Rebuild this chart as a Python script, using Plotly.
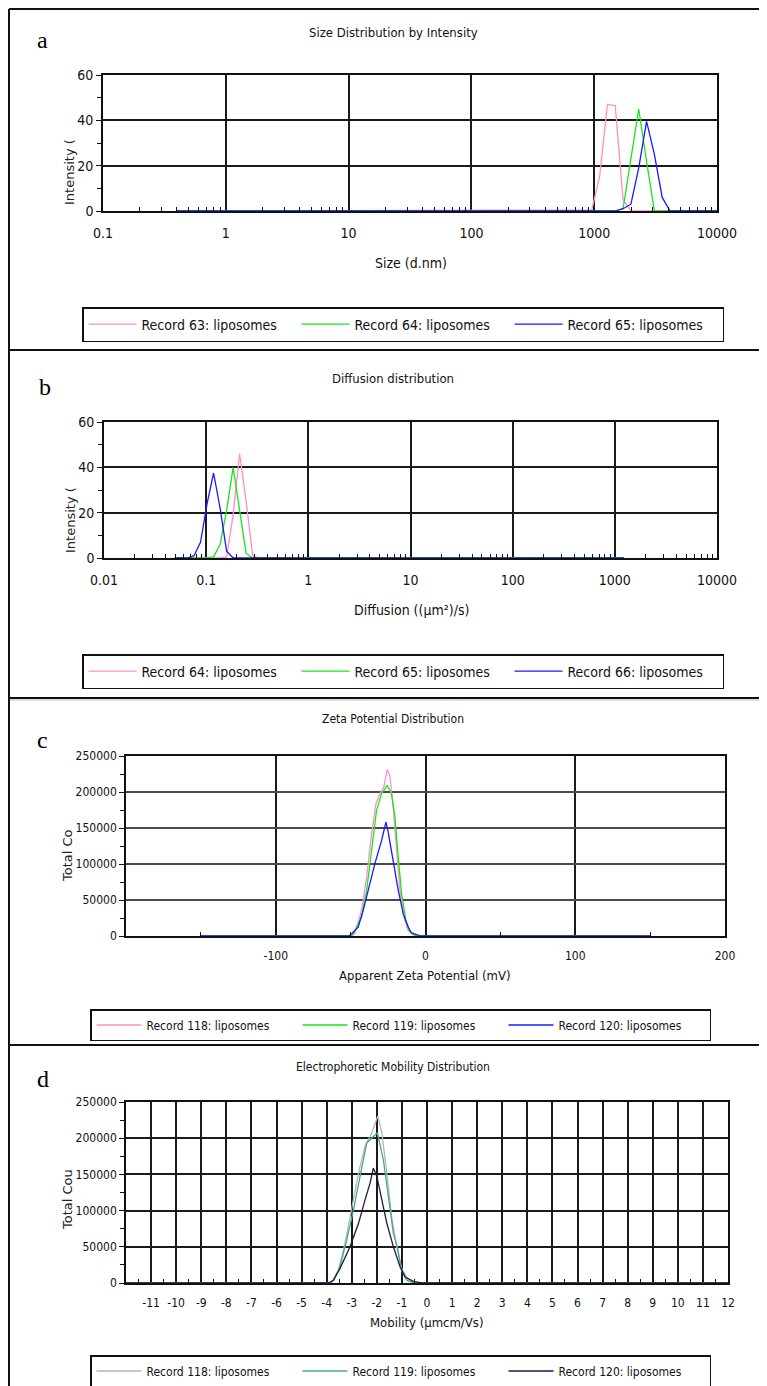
import plotly.graph_objects as go

# The page adds an 8px body margin; reference pixel coordinates are shifted by it.
OFF = 8
W, H = 767 - OFF, 1386 - OFF
NARROW = "Liberation Sans Narrow, Arial Narrow, DejaVu Sans Condensed, Liberation Sans, sans-serif"
WIDE = "DejaVu Sans, Verdana, sans-serif"
SERIF = "Liberation Serif, Times New Roman, serif"

# ---------------- data ----------------
# (a) Size distribution by intensity (d.nm vs %)
a_size = [0.4, 955.4, 1106, 1281, 1484, 1718, 1990, 2305, 2669, 3091, 3580, 4145, 4801, 10000]
a_rec63 = [0, 0.5, 15, 47, 46.5, 5, 0, 0, 0, 0, 0, 0, 0, 0]
a_rec64 = [0, 0, 0, 0, 0, 1, 22, 45, 22, 0, 0, 0, 0, 0]
a_rec65 = [0, 0, 0, 0, 0, 1, 3, 19, 39.5, 25, 6, 0, 0, 0]
a_names = ["Record 63: liposomes", "Record 64: liposomes", "Record 65: liposomes"]

# (b) Diffusion distribution ((um^2)/s vs %)
b_diff = [0.049, 0.0657, 0.0761, 0.0881, 0.1021, 0.1182, 0.1369, 0.1585, 0.1836, 0.2126,
          0.2462, 0.2852, 0.3302, 1230]
b_rec64 = [0, 0, 0, 0, 0, 0, 0, 0.5, 19, 46, 25, 1, 0, 0]
b_rec65 = [0, 0, 0, 0, 0, 0.5, 6, 21, 40, 21, 2, 0, 0, 0]
b_rec66 = [0, 0, 1, 7, 24, 37.5, 22, 3, 0, 0, 0, 0, 0, 0]
b_names = ["Record 64: liposomes", "Record 65: liposomes", "Record 66: liposomes"]

# (c) Zeta potential distribution (mV vs total counts)
c118_x = [-150, -49, -47.1, -42.7, -39.3, -36, -33.1, -30.4, -27.8, -25.6, -23.8, -21.6,
          -19.3, -17.1, -14.4, -11.6, -7.1, 150]
c118_y = [0, 0, 4200, 35600, 82000, 142100, 183800, 197700, 207000, 231000, 223100, 179200,
          119000, 63400, 26400, 7900, 0, 0]
c119_x = [-150, -50, -48.2, -42.7, -39.3, -36, -32.7, -29.3, -25.6, -22.7, -20.4, -18.2,
          -16, -13.1, -10.4, -6, 150]
c119_y = [0, 0, 3200, 26400, 63400, 119000, 174500, 197700, 209000, 197700, 165300, 109700,
          58800, 21800, 5600, 0, 0]
c120_x = [-150, -51, -49.3, -44.9, -41.6, -38.2, -33.8, -29.3, -26.4, -24.9, -21.6, -18.2,
          -14.9, -11.6, -9.3, -4.9, -3, 150]
c120_y = [0, 0, 3200, 12500, 35600, 63400, 100500, 132900, 158300, 144400, 105100, 63400,
          31000, 12500, 4200, 900, 0, 0]
c_names = ["Record 118: liposomes", "Record 119: liposomes", "Record 120: liposomes"]

# (d) Electrophoretic mobility distribution (umcm/Vs vs total counts)
d118_x = [-12, -3.9, -3.8, -3.53, -3.27, -3.0, -2.73, -2.47, -2.2, -1.96, -1.8, -1.6, -1.41,
          -1.21, -1.01, -0.74, -0.47, 12]
d118_y = [0, 0, 1400, 17600, 54600, 100900, 151900, 188900, 207400, 230600, 207400, 151900,
          91700, 50000, 19900, 3700, 0, 0]
d119_x = [-12, -3.85, -3.73, -3.47, -3.2, -2.93, -2.67, -2.4, -1.98, -1.74, -1.54, -1.34,
          -1.18, -1.01, -0.81, -0.54, 12]
d119_y = [0, 0, 3700, 22200, 59300, 100900, 147200, 193500, 207400, 170400, 119400, 68500,
          50000, 17600, 3700, 0, 0]
d120_x = [-12, -3.93, -3.73, -3.47, -3.07, -2.73, -2.47, -2.27, -2.14, -2.0, -1.8, -1.6,
          -1.34, -1.07, -0.87, -0.54, -0.21, 12]
d120_y = [0, 0, 3700, 19900, 50000, 82400, 114800, 138000, 158800, 147200, 114800, 82400,
          50000, 22200, 8300, 2300, 0, 0]
d_names = ["Record 118: liposomes", "Record 119: liposomes", "Record 120: liposomes"]

# ticks
log_a_ticks = [0.1, 1, 10, 100, 1000, 10000]
log_b_ticks = [0.01, 0.1, 1, 10, 100, 1000, 10000]
c_ticks = [-100, 0, 100, 200]
d_ticks = list(range(-11, 13))
pct_ticks = [0, 20, 40, 60]
cnt_ticks = [0, 50000, 100000, 150000, 200000, 250000]

# ---------------- layout helpers (reference pixel coords -> paper) ----------------
def px(x):
    return (x - OFF) / W

def py(y):
    return 1 - (y - OFF) / H

def xd(x0, x1):
    return [px(x0), px(x1)]

def yd(y0, y1):
    return [py(y1), py(y0)]

fig = go.Figure()

PINK, GREEN, BLUE = "#ff8fc6", "#19e619", "#1a1aff"
GRAY, TEAL, NAVY = "#b5b5b5", "#4aa88a", "#1c1c44"

def add(x, y, name, color, xa, ya, leg):
    fig.add_trace(go.Scatter(x=x, y=y, name=name, mode="lines",
                             line=dict(color=color, width=1.3),
                             xaxis=xa, yaxis=ya, legend=leg, hoverinfo="skip"))

add(a_size, a_rec63, a_names[0], PINK, "x", "y", "legend")
add(a_size, a_rec64, a_names[1], GREEN, "x", "y", "legend")
add(a_size, a_rec65, a_names[2], BLUE, "x", "y", "legend")
add(b_diff, b_rec64, b_names[0], PINK, "x2", "y2", "legend2")
add(b_diff, b_rec65, b_names[1], GREEN, "x2", "y2", "legend2")
add(b_diff, b_rec66, b_names[2], BLUE, "x2", "y2", "legend2")
add(c118_x, c118_y, c_names[0], PINK, "x3", "y3", "legend3")
add(c119_x, c119_y, c_names[1], GREEN, "x3", "y3", "legend3")
add(c120_x, c120_y, c_names[2], BLUE, "x3", "y3", "legend3")
add(d118_x, d118_y, d_names[0], GRAY, "x4", "y4", "legend4")
add(d119_x, d119_y, d_names[1], TEAL, "x4", "y4", "legend4")
add(d120_x, d120_y, d_names[2], NAVY, "x4", "y4", "legend4")

tickfont_ab = dict(family=NARROW, size=14, color="#111")
tickfont_cd = dict(family=NARROW, size=12, color="#111")

def base_axis(grid="#1a1a1a", gw=1.6, tf=tickfont_ab):
    return dict(showline=True, linecolor="#111", linewidth=1.6, mirror=True,
                showgrid=True, gridcolor=grid, gridwidth=gw, zeroline=False,
                tickfont=tf, tickcolor="#111", fixedrange=True, tickangle=0,
                automargin=False)

decade_minor_a = [m * 10 ** e for e in range(-1, 4) for m in range(2, 10)]
decade_minor_b = [m * 10 ** e for e in range(-2, 4) for m in range(2, 10)]

minor_x = lambda vals: dict(tickmode="array", tickvals=vals, ticks="inside", ticklen=4,
                            tickcolor="#111", tickwidth=1.2, showgrid=False)
minor_y = lambda vals: dict(tickmode="array", tickvals=vals, ticks="outside", ticklen=4,
                            tickcolor="#111", tickwidth=1.2, showgrid=False)

hy = lambda vals: [str(v).replace("\u2212", "-") for v in vals]

layout = dict(
    width=W, height=H, margin=dict(l=0, r=0, t=0, b=0, pad=0, autoexpand=False),
    paper_bgcolor="white", plot_bgcolor="white",
    # a
    xaxis=dict(base_axis(), type="log", domain=xd(103, 717), range=[-1, 4], anchor="y",
               tickmode="array", tickvals=log_a_ticks, ticktext=hy(log_a_ticks),
               ticks="", ticklabelstandoff=8, minor=minor_x(decade_minor_a)),
    yaxis=dict(base_axis(), domain=yd(75, 211), range=[0, 60], anchor="x",
               tickmode="array", tickvals=pct_ticks, ticks="outside", ticklen=5,
               minor=minor_y([10, 30, 50])),
    # b
    xaxis2=dict(base_axis(), type="log", domain=xd(104, 717), range=[-2, 4], anchor="y2",
                tickmode="array", tickvals=log_b_ticks, ticktext=hy(log_b_ticks),
                ticks="", ticklabelstandoff=8, minor=minor_x(decade_minor_b)),
    yaxis2=dict(base_axis(), domain=yd(422, 558), range=[0, 60], anchor="x2",
                tickmode="array", tickvals=pct_ticks, ticks="outside", ticklen=5,
                minor=minor_y([10, 30, 50])),
    # c
    xaxis3=dict(base_axis(tf=tickfont_cd), domain=xd(126, 725), range=[-200, 200], anchor="y3",
                tickmode="array", tickvals=c_ticks, ticktext=hy(c_ticks), ticks="",
                ticklabelstandoff=8, minor=minor_x([-150, -50, 50, 150])),
    yaxis3=dict(base_axis(grid="#4a4a4a", gw=2, tf=tickfont_cd), domain=yd(756, 936),
                range=[0, 250000], anchor="x3", tickmode="array", tickvals=cnt_ticks,
                tickformat="d", ticks="outside", ticklen=5,
                minor=minor_y([25000, 75000, 125000, 175000, 225000])),
    # d
    xaxis4=dict(base_axis(tf=tickfont_cd), domain=xd(126, 728), range=[-12, 12], anchor="y4",
                tickmode="array", tickvals=d_ticks, ticktext=hy(d_ticks), ticks="",
                ticklabelstandoff=8, minor=minor_x([v + 0.5 for v in range(-12, 12)])),
    yaxis4=dict(base_axis(tf=tickfont_cd), domain=yd(1102, 1283), range=[0, 250000], anchor="x4",
                tickmode="array", tickvals=cnt_ticks, tickformat="d", ticks="outside", ticklen=5,
                minor=minor_y([25000, 75000, 125000, 175000, 225000])),
)

def leg(x0, y0, size, ew, iw, bw=1.5):
    return dict(orientation="h", x=px(x0), y=py(y0), xanchor="left", yanchor="top",
                bgcolor="white", bordercolor="#111", borderwidth=bw,
                font=dict(family=NARROW, size=size, color="#111"),
                entrywidth=ew, entrywidthmode="pixels", itemwidth=iw, itemclick=False,
                itemdoubleclick=False)

layout["legend"] = leg(82, 307, 14, 150, 48)
layout["legend2"] = leg(82, 654, 14, 150, 48)
layout["legend3"] = leg(90, 1009, 12, 146, 45)
layout["legend4"] = leg(90, 1355, 12, 146, 45)

fig.update_layout(**layout)

# annotations: panel letters, titles, axis titles
def ann(x, y, text, font, angle=0):
    fig.add_annotation(x=px(x), y=py(y), xref="paper", yref="paper", text=text,
                       showarrow=False, font=font, textangle=angle,
                       xanchor="center", yanchor="middle")

letter = dict(family=SERIF, size=24, color="black")
title_f = dict(family=NARROW, size=13, color="#111")
ytitle_f = dict(family=WIDE, size=13, color="#222")

ann(42, 40, "a", letter)
ann(45, 387, "b", letter)
ann(42, 740, "c", letter)
ann(43, 1079, "d", letter)

ann(393, 32, "Size Distribution by Intensity", title_f)
ann(393, 379, "Diffusion distribution", title_f)
ann(393, 719, "Zeta Potential Distribution", dict(title_f, size=12))
ann(393, 1067, "Electrophoretic Mobility Distribution", dict(title_f, size=12))

ann(411, 263, "Size (d.nm)", dict(title_f, size=14))
ann(411, 610, "Diffusion ((µm²)/s)", dict(title_f, size=14))
ann(425, 975, "Apparent Zeta Potential (mV)", dict(title_f, size=13))
ann(426, 1322, "Mobility (µmcm/Vs)", dict(title_f, size=13))

ann(69, 172, "Intensity (", ytitle_f, -90)
ann(70, 520, "Intensity (", ytitle_f, -90)
ann(67, 856, "Total Co", ytitle_f, -90)
ann(67, 1200, "Total Cou", ytitle_f, -90)

# panel frame lines
def hline(y, color="#111", w=2):
    fig.add_shape(type="line", xref="paper", yref="paper", x0=px(9), x1=1, y0=py(y), y1=py(y),
                  line=dict(color=color, width=w))

hline(9)
hline(350)
hline(698)
hline(700, color="#bbbbbb", w=1)
hline(1045)
fig.add_shape(type="line", xref="paper", yref="paper", x0=px(9), x1=px(9), y0=py(9), y1=0,
              line=dict(color="#111", width=2))

fig.write_html("out.html")
